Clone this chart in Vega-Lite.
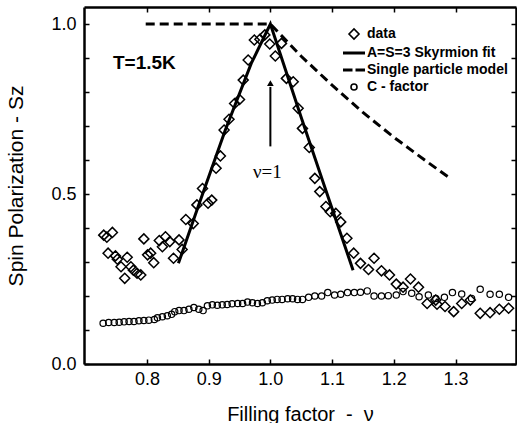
{
  "$schema": "https://vega.github.io/schema/vega-lite/v6.json",
  "width": 432,
  "height": 357,
  "autosize": {"type": "none"},
  "padding": {"left": 84, "top": 7, "right": 1, "bottom": 59},
  "background": "white",
  "config": {
    "view": {"stroke": null},
    "font": "Liberation Sans",
    "axis": {
      "grid": false,
      "labelColor": "black",
      "labelFont": "Liberation Sans",
      "labelFontSize": 18,
      "titleColor": "black",
      "titleFont": "Liberation Sans",
      "titleFontWeight": "normal",
      "titleFontSize": 20
    }
  },
  "datasets": {
    "diamonds": [
      {"v": 0.730, "s": 0.379, "series": "data"},
      {"v": 0.744, "s": 0.387, "series": "data"},
      {"v": 0.735, "s": 0.373, "series": "data"},
      {"v": 0.737, "s": 0.326, "series": "data"},
      {"v": 0.749, "s": 0.318, "series": "data"},
      {"v": 0.752, "s": 0.308, "series": "data"},
      {"v": 0.768, "s": 0.314, "series": "data"},
      {"v": 0.758, "s": 0.286, "series": "data"},
      {"v": 0.764, "s": 0.252, "series": "data"},
      {"v": 0.774, "s": 0.286, "series": "data"},
      {"v": 0.778, "s": 0.276, "series": "data"},
      {"v": 0.784, "s": 0.267, "series": "data"},
      {"v": 0.790, "s": 0.262, "series": "data"},
      {"v": 0.795, "s": 0.368, "series": "data"},
      {"v": 0.801, "s": 0.321, "series": "data"},
      {"v": 0.806, "s": 0.326, "series": "data"},
      {"v": 0.811, "s": 0.298, "series": "data"},
      {"v": 0.820, "s": 0.363, "series": "data"},
      {"v": 0.830, "s": 0.374, "series": "data"},
      {"v": 0.825, "s": 0.345, "series": "data"},
      {"v": 0.837, "s": 0.360, "series": "data"},
      {"v": 0.852, "s": 0.365, "series": "data"},
      {"v": 0.843, "s": 0.311, "series": "data"},
      {"v": 0.857, "s": 0.337, "series": "data"},
      {"v": 0.863, "s": 0.425, "series": "data"},
      {"v": 0.875, "s": 0.413, "series": "data"},
      {"v": 0.881, "s": 0.468, "series": "data"},
      {"v": 0.890, "s": 0.516, "series": "data"},
      {"v": 0.899, "s": 0.473, "series": "data"},
      {"v": 0.905, "s": 0.482, "series": "data"},
      {"v": 0.912, "s": 0.576, "series": "data"},
      {"v": 0.919, "s": 0.612, "series": "data"},
      {"v": 0.925, "s": 0.688, "series": "data"},
      {"v": 0.933, "s": 0.720, "series": "data"},
      {"v": 0.942, "s": 0.766, "series": "data"},
      {"v": 0.950, "s": 0.778, "series": "data"},
      {"v": 0.956, "s": 0.835, "series": "data"},
      {"v": 0.964, "s": 0.894, "series": "data"},
      {"v": 0.974, "s": 0.953, "series": "data"},
      {"v": 0.983, "s": 0.955, "series": "data"},
      {"v": 0.991, "s": 0.968, "series": "data"},
      {"v": 0.999, "s": 0.941, "series": "data"},
      {"v": 1.008, "s": 0.906, "series": "data"},
      {"v": 1.018, "s": 0.943, "series": "data"},
      {"v": 1.026, "s": 0.840, "series": "data"},
      {"v": 1.037, "s": 0.830, "series": "data"},
      {"v": 1.045, "s": 0.752, "series": "data"},
      {"v": 1.052, "s": 0.693, "series": "data"},
      {"v": 1.063, "s": 0.637, "series": "data"},
      {"v": 1.072, "s": 0.546, "series": "data"},
      {"v": 1.080, "s": 0.507, "series": "data"},
      {"v": 1.090, "s": 0.463, "series": "data"},
      {"v": 1.097, "s": 0.448, "series": "data"},
      {"v": 1.106, "s": 0.443, "series": "data"},
      {"v": 1.114, "s": 0.418, "series": "data"},
      {"v": 1.124, "s": 0.370, "series": "data"},
      {"v": 1.135, "s": 0.326, "series": "data"},
      {"v": 1.146, "s": 0.296, "series": "data"},
      {"v": 1.159, "s": 0.278, "series": "data"},
      {"v": 1.168, "s": 0.311, "series": "data"},
      {"v": 1.180, "s": 0.274, "series": "data"},
      {"v": 1.193, "s": 0.262, "series": "data"},
      {"v": 1.204, "s": 0.235, "series": "data"},
      {"v": 1.215, "s": 0.226, "series": "data"},
      {"v": 1.227, "s": 0.250, "series": "data"},
      {"v": 1.240, "s": 0.226, "series": "data"},
      {"v": 1.254, "s": 0.178, "series": "data"},
      {"v": 1.268, "s": 0.188, "series": "data"},
      {"v": 1.270, "s": 0.176, "series": "data"},
      {"v": 1.283, "s": 0.169, "series": "data"},
      {"v": 1.297, "s": 0.154, "series": "data"},
      {"v": 1.310, "s": 0.178, "series": "data"},
      {"v": 1.324, "s": 0.188, "series": "data"},
      {"v": 1.340, "s": 0.149, "series": "data"},
      {"v": 1.356, "s": 0.151, "series": "data"},
      {"v": 1.371, "s": 0.161, "series": "data"},
      {"v": 1.386, "s": 0.164, "series": "data"}
    ],
    "circles": [
      {"v": 0.729, "s": 0.120, "series": "C - factor"},
      {"v": 0.738, "s": 0.122, "series": "C - factor"},
      {"v": 0.747, "s": 0.122, "series": "C - factor"},
      {"v": 0.755, "s": 0.123, "series": "C - factor"},
      {"v": 0.763, "s": 0.124, "series": "C - factor"},
      {"v": 0.771, "s": 0.125, "series": "C - factor"},
      {"v": 0.779, "s": 0.125, "series": "C - factor"},
      {"v": 0.787, "s": 0.127, "series": "C - factor"},
      {"v": 0.795, "s": 0.128, "series": "C - factor"},
      {"v": 0.803, "s": 0.129, "series": "C - factor"},
      {"v": 0.812, "s": 0.131, "series": "C - factor"},
      {"v": 0.817, "s": 0.136, "series": "C - factor"},
      {"v": 0.825, "s": 0.139, "series": "C - factor"},
      {"v": 0.833, "s": 0.142, "series": "C - factor"},
      {"v": 0.840, "s": 0.146, "series": "C - factor"},
      {"v": 0.845, "s": 0.154, "series": "C - factor"},
      {"v": 0.852, "s": 0.157, "series": "C - factor"},
      {"v": 0.860, "s": 0.157, "series": "C - factor"},
      {"v": 0.868, "s": 0.161, "series": "C - factor"},
      {"v": 0.876, "s": 0.166, "series": "C - factor"},
      {"v": 0.884, "s": 0.161, "series": "C - factor"},
      {"v": 0.891, "s": 0.157, "series": "C - factor"},
      {"v": 0.898, "s": 0.171, "series": "C - factor"},
      {"v": 0.906, "s": 0.174, "series": "C - factor"},
      {"v": 0.914, "s": 0.173, "series": "C - factor"},
      {"v": 0.922, "s": 0.174, "series": "C - factor"},
      {"v": 0.930, "s": 0.175, "series": "C - factor"},
      {"v": 0.938, "s": 0.177, "series": "C - factor"},
      {"v": 0.947, "s": 0.178, "series": "C - factor"},
      {"v": 0.955, "s": 0.178, "series": "C - factor"},
      {"v": 0.963, "s": 0.182, "series": "C - factor"},
      {"v": 0.971, "s": 0.180, "series": "C - factor"},
      {"v": 0.979, "s": 0.178, "series": "C - factor"},
      {"v": 0.987, "s": 0.180, "series": "C - factor"},
      {"v": 0.995, "s": 0.186, "series": "C - factor"},
      {"v": 1.003, "s": 0.188, "series": "C - factor"},
      {"v": 1.011, "s": 0.190, "series": "C - factor"},
      {"v": 1.019, "s": 0.190, "series": "C - factor"},
      {"v": 1.028, "s": 0.192, "series": "C - factor"},
      {"v": 1.036, "s": 0.192, "series": "C - factor"},
      {"v": 1.044, "s": 0.190, "series": "C - factor"},
      {"v": 1.052, "s": 0.190, "series": "C - factor"},
      {"v": 1.062, "s": 0.196, "series": "C - factor"},
      {"v": 1.072, "s": 0.200, "series": "C - factor"},
      {"v": 1.083, "s": 0.200, "series": "C - factor"},
      {"v": 1.093, "s": 0.210, "series": "C - factor"},
      {"v": 1.104, "s": 0.203, "series": "C - factor"},
      {"v": 1.114, "s": 0.205, "series": "C - factor"},
      {"v": 1.125, "s": 0.210, "series": "C - factor"},
      {"v": 1.136, "s": 0.210, "series": "C - factor"},
      {"v": 1.146, "s": 0.211, "series": "C - factor"},
      {"v": 1.157, "s": 0.215, "series": "C - factor"},
      {"v": 1.168, "s": 0.200, "series": "C - factor"},
      {"v": 1.180, "s": 0.200, "series": "C - factor"},
      {"v": 1.191, "s": 0.201, "series": "C - factor"},
      {"v": 1.204, "s": 0.203, "series": "C - factor"},
      {"v": 1.215, "s": 0.213, "series": "C - factor"},
      {"v": 1.229, "s": 0.208, "series": "C - factor"},
      {"v": 1.241, "s": 0.198, "series": "C - factor"},
      {"v": 1.256, "s": 0.203, "series": "C - factor"},
      {"v": 1.268, "s": 0.193, "series": "C - factor"},
      {"v": 1.282, "s": 0.196, "series": "C - factor"},
      {"v": 1.295, "s": 0.210, "series": "C - factor"},
      {"v": 1.310, "s": 0.206, "series": "C - factor"},
      {"v": 1.326, "s": 0.193, "series": "C - factor"},
      {"v": 1.340, "s": 0.220, "series": "C - factor"},
      {"v": 1.356, "s": 0.205, "series": "C - factor"},
      {"v": 1.371, "s": 0.205, "series": "C - factor"},
      {"v": 1.386, "s": 0.196, "series": "C - factor"}
    ],
    "fit": [
      {"v": 0.851, "s": 0.296},
      {"v": 0.883, "s": 0.463},
      {"v": 0.927, "s": 0.688},
      {"v": 0.969, "s": 0.884},
      {"v": 1.0, "s": 1.0},
      {"v": 1.05, "s": 0.725},
      {"v": 1.09, "s": 0.51},
      {"v": 1.134, "s": 0.276}
    ],
    "spm": [
      {"v": 0.798, "s": 1.0},
      {"v": 1.0, "s": 1.0},
      {"v": 1.05, "s": 0.905},
      {"v": 1.1, "s": 0.82},
      {"v": 1.15, "s": 0.74},
      {"v": 1.2, "s": 0.667},
      {"v": 1.25, "s": 0.60},
      {"v": 1.292, "s": 0.545}
    ],
    "arrow": [{"v": 1.0, "s0": 0.64, "s1": 0.815, "head": 0.826}]
  },
  "layer": [
    {
      "data": {"name": "diamonds"},
      "mark": {"type": "point", "filled": false, "color": "black", "strokeWidth": 1.5, "size": 100, "opacity": 1},
      "encoding": {
        "x": {"field": "v", "type": "quantitative", "scale": {"domain": [0.698, 1.398], "nice": false, "zero": false},
          "axis": {"orient": "bottom", "domain": true, "domainColor": "black", "domainWidth": 2.5, "ticks": true, "tickColor": "black", "tickWidth": 1.5, "tickSize": -5, "zindex": 1,
            "values": [0.8, 0.9, 1.0, 1.1, 1.2, 1.3], "format": ".1f", "labelPadding": 11, "title": "Filling factor \u00a0-\u00a0 ν", "titleBaseline": "alphabetic", "titleY": 56}},
        "y": {"field": "s", "type": "quantitative", "scale": {"domain": [0, 1.05], "nice": false, "zero": false},
          "axis": {"orient": "left", "domain": true, "domainColor": "black", "domainWidth": 2.5, "ticks": true, "tickColor": "black", "tickWidth": 1.5, "tickSize": -5, "zindex": 1,
            "values": [0, 0.1, 0.2, 0.3, 0.4, 0.5, 0.6, 0.7, 0.8, 0.9, 1.0], "labelExpr": "datum.value == 0 || datum.value == 0.5 || datum.value == 1 ? format(datum.value, '.1f') : ''", "labelPadding": 13, "title": "Spin Polarization - Sz", "titleFontSize": 21, "titleBaseline": "alphabetic", "titleX": -62}},
        "shape": {"field": "series", "type": "nominal",
          "scale": {"domain": ["data", "A=S=3 Skyrmion fit", "Single particle model", "C - factor"],
                    "range": ["diamond", "M-2.2,-0.12H2.2M-2.2,0.12H2.2", "M-2.2,-0.12H-0.3M0.3,-0.12H2.2M-2.2,0.12H-0.3M0.3,0.12H2.2", "M0.6,0A0.6,0.6,0,1,1,-0.6,0A0.6,0.6,0,1,1,0.6,0"]},
          "legend": {"orient": "none", "legendX": 263, "legendY": 20, "title": null, "padding": 0,
            "labelFont": "Liberation Sans", "labelFontWeight": "bold", "labelFontSize": 14, "labelColor": "black",
            "symbolSize": 100, "symbolStrokeColor": "black", "symbolFillColor": "transparent", "symbolStrokeWidth": 1.6,
            "labelOffset": 6, "rowPadding": 3}}
      }
    },
    {
      "data": {"name": "circles"},
      "mark": {"type": "point", "filled": false, "color": "black", "strokeWidth": 1.2, "size": 110, "opacity": 1},
      "encoding": {
        "x": {"field": "v", "type": "quantitative",
          "axis": {"orient": "top", "domain": true, "domainColor": "black", "domainWidth": 2.5, "ticks": true, "tickColor": "black", "tickWidth": 1.5, "tickSize": -5, "zindex": 1, "values": [0.8, 0.9, 1.0, 1.1, 1.2, 1.3], "labels": false, "title": null}},
        "y": {"field": "s", "type": "quantitative",
          "axis": {"orient": "right", "domain": true, "domainColor": "black", "domainWidth": 2.5, "ticks": true, "tickColor": "black", "tickWidth": 1.5, "tickSize": -5, "zindex": 1, "values": [0, 0.1, 0.2, 0.3, 0.4, 0.5, 0.6, 0.7, 0.8, 0.9, 1.0], "labels": false, "title": null}},
        "shape": {"field": "series", "type": "nominal"}
      }
    },
    {
      "data": {"name": "fit"},
      "mark": {"type": "line", "color": "black", "strokeWidth": 3},
      "encoding": {
        "x": {"field": "v", "type": "quantitative", "axis": null},
        "y": {"field": "s", "type": "quantitative", "axis": null}
      }
    },
    {
      "data": {"name": "spm"},
      "mark": {"type": "line", "color": "black", "strokeWidth": 3, "strokeDash": [9, 5]},
      "encoding": {
        "x": {"field": "v", "type": "quantitative", "axis": null},
        "y": {"field": "s", "type": "quantitative", "axis": null}
      }
    },
    {
      "data": {"name": "arrow"},
      "mark": {"type": "rule", "color": "black", "strokeWidth": 2},
      "encoding": {
        "x": {"field": "v", "type": "quantitative", "axis": null},
        "y": {"field": "s0", "type": "quantitative", "axis": null},
        "y2": {"field": "s1"}
      }
    },
    {
      "data": {"name": "arrow"},
      "mark": {"type": "point", "shape": "triangle-up", "filled": true, "color": "black", "size": 45, "opacity": 1},
      "encoding": {
        "x": {"field": "v", "type": "quantitative", "axis": null},
        "y": {"field": "head", "type": "quantitative", "axis": null}
      }
    },
    {
      "data": {"values": [{"v": 0.745, "s": 0.885, "label": "T=1.5K"}]},
      "mark": {"type": "text", "align": "left", "baseline": "middle", "font": "Liberation Sans", "fontWeight": "bold", "fontSize": 19, "color": "black"},
      "encoding": {
        "x": {"field": "v", "type": "quantitative", "axis": null},
        "y": {"field": "s", "type": "quantitative", "axis": null},
        "text": {"field": "label"}
      }
    },
    {
      "data": {"values": [{"v": 0.995, "s": 0.566, "label": "ν=1"}]},
      "mark": {"type": "text", "align": "center", "baseline": "middle", "font": "Liberation Serif", "fontSize": 19, "color": "black"},
      "encoding": {
        "x": {"field": "v", "type": "quantitative", "axis": null},
        "y": {"field": "s", "type": "quantitative", "axis": null},
        "text": {"field": "label"}
      }
    }
  ],
  "resolve": {"axis": {"x": "independent", "y": "independent"}}
}
